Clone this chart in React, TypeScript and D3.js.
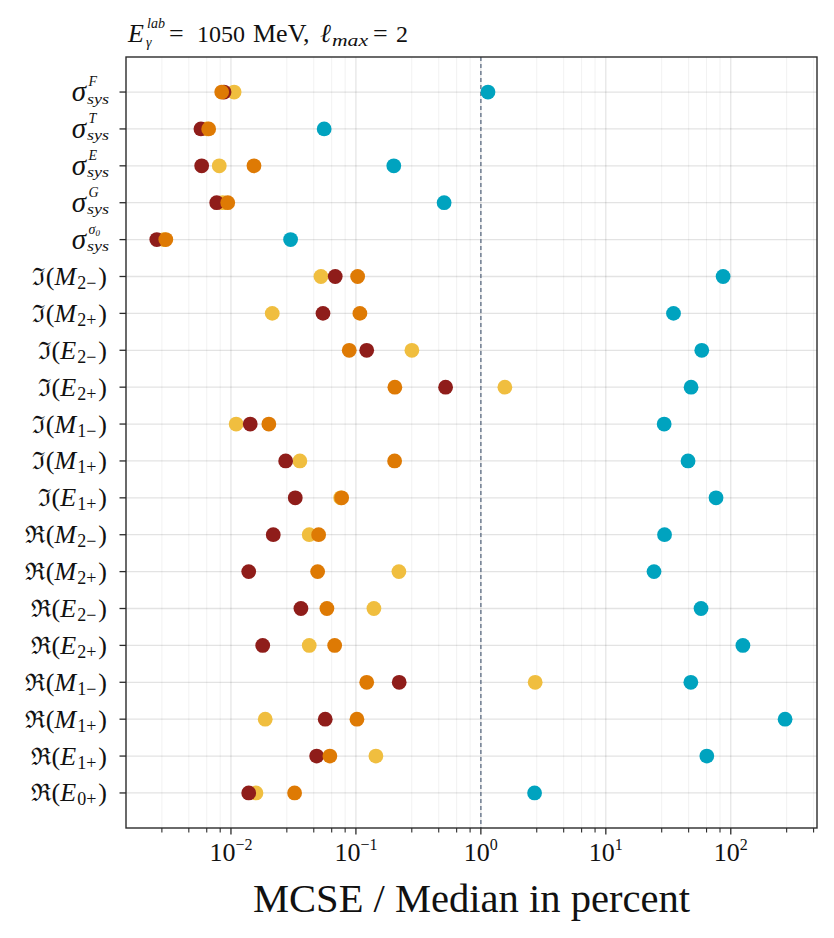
import React from "react";
import * as d3 from "d3";

// rows, top to bottom
const rowKeys = [
  "sigF", "sigT", "sigE", "sigG", "sigS0",
  "ImM2m", "ImM2p", "ImE2m", "ImE2p", "ImM1m", "ImM1p", "ImE1p",
  "ReM2m", "ReM2p", "ReE2m", "ReE2p", "ReM1m", "ReM1p", "ReE1p", "ReE0p",
];

type Label =
  | { kind: "sigma"; sup: string; supSub?: string }
  | { kind: "Im" | "Re"; sym: string; sub: string };

const rowLabels: Label[] = [
  { kind: "sigma", sup: "F" },
  { kind: "sigma", sup: "T" },
  { kind: "sigma", sup: "E" },
  { kind: "sigma", sup: "G" },
  { kind: "sigma", sup: "σ", supSub: "0" },
  { kind: "Im", sym: "M", sub: "2−" },
  { kind: "Im", sym: "M", sub: "2+" },
  { kind: "Im", sym: "E", sub: "2−" },
  { kind: "Im", sym: "E", sub: "2+" },
  { kind: "Im", sym: "M", sub: "1−" },
  { kind: "Im", sym: "M", sub: "1+" },
  { kind: "Im", sym: "E", sub: "1+" },
  { kind: "Re", sym: "M", sub: "2−" },
  { kind: "Re", sym: "M", sub: "2+" },
  { kind: "Re", sym: "E", sub: "2−" },
  { kind: "Re", sym: "E", sub: "2+" },
  { kind: "Re", sym: "M", sub: "1−" },
  { kind: "Re", sym: "M", sub: "1+" },
  { kind: "Re", sym: "E", sub: "1+" },
  { kind: "Re", sym: "E", sub: "0+" },
];

// MCSE / median in percent, one array per series
const blueVals = [1.14, 0.0557, 0.201, 0.508, 0.03, 86.8, 34.8, 58.6, 48.1, 29.3, 45.5, 76.2, 29.5, 24.3, 57.8, 125, 47.9, 272, 64.3, 2.69];
const yellowVals = [0.0106, 0.0064, 0.00806, 0.0086, 0.0029, 0.0525, 0.0214, 0.2805, 1.556, 0.011, 0.0356, 0.0755, 0.0423, 0.2208, 0.1393, 0.0423, 2.72, 0.0188, 0.1445, 0.01585];
const redVals = [0.0088, 0.00575, 0.00583, 0.00769, 0.00255, 0.0683, 0.0545, 0.122, 0.522, 0.01426, 0.0274, 0.0327, 0.0218, 0.01387, 0.0363, 0.01795, 0.222, 0.0568, 0.0485, 0.01387];
const orangeVals = [0.00843, 0.00663, 0.01528, 0.00942, 0.00301, 0.1032, 0.1076, 0.0884, 0.205, 0.0201, 0.204, 0.0769, 0.0503, 0.0494, 0.0586, 0.0676, 0.122, 0.1019, 0.0619, 0.0323];

const series = [
  { name: "blue", color: "#00a3bf", values: blueVals },
  { name: "yellow", color: "#f0be3f", values: yellowVals },
  { name: "red", color: "#8f1d1a", values: redVals },
  { name: "orange", color: "#de7a04", values: orangeVals },
];

const majorExps = [-2, -1, 0, 1, 2];
const minorMults = [2.8, 4.6, 6.4, 8.2];
const minorDecades = [-3, -2, -1, 0, 1, 2];

const W = 834;
const H = 938;
const left = 126;
const right = 817;
const top = 57;
const bottom = 828;

const font = "'Liberation Serif', 'DejaVu Serif', serif";

function RowLabel({ label, y }: { label: Label; y: number }) {
  if (label.kind === "sigma") {
    return (
      <g fontFamily={font} fontStyle="italic" fill="#111">
        <text x={86} y={y + 9} fontSize={29} textAnchor="end">σ</text>
        <text x={88.5} y={y - 6} fontSize={14}>
          {label.sup}
          {label.supSub && (
            <tspan fontSize={9} dy={2}>{label.supSub}</tspan>
          )}
        </text>
        <text x={87} y={y + 11.5} fontSize={15} textLength={22} lengthAdjust="spacingAndGlyphs">sys</text>
      </g>
    );
  }
  return (
    <text x={107} y={y + 8.5} fontFamily={font} fontSize={26} textAnchor="end" fill="#111">
      <tspan fontFamily="'DejaVu Serif', serif" fontSize={24}>{label.kind === "Im" ? "ℑ" : "ℜ"}</tspan>
      <tspan dx={1}>(</tspan>
      <tspan fontStyle="italic">{label.sym}</tspan>
      <tspan fontSize={18} dy={4} dx={1}>{label.sub}</tspan>
      <tspan dy={-4} dx={2}>)</tspan>
    </text>
  );
}

export default function App() {
  const x = d3
    .scaleLog()
    .domain([Math.pow(10, -2.84), Math.pow(10, 2.69)])
    .range([left, right]);
  const y = d3.scalePoint<string>().domain(rowKeys).range([top, bottom]).padding(0.95);

  const majors = majorExps.map((e) => Math.pow(10, e));
  const minors = minorDecades
    .flatMap((d) => minorMults.map((m) => m * Math.pow(10, d)))
    .filter((v) => x(v) > left && x(v) < right);

  return (
    <svg
      width={W}
      height={H}
      viewBox={`0 0 ${W} ${H}`}
      style={{ position: "absolute", left: 0, top: 0, background: "#fff" }}
    >
      {/* title */}
      <g fontFamily={font} fill="#111">
        <text x={128} y={42} fontSize={26} fontStyle="italic">E</text>
        <text x={147} y={28} fontSize={14} fontStyle="italic">lab</text>
        <text x={146} y={47} fontSize={14} fontStyle="italic">γ</text>
        <text x={169} y={42} fontSize={26}>=</text>
        <text x={197} y={42} fontSize={24}>1050</text>
        <text x={253} y={42} fontSize={26}>MeV,</text>
        <text x={320} y={42} fontSize={26} fontStyle="italic">ℓ</text>
        <text x={332} y={46} fontSize={16} fontStyle="italic" textLength={36} lengthAdjust="spacingAndGlyphs">max</text>
        <text x={373} y={42} fontSize={26}>=</text>
        <text x={396} y={42} fontSize={24}>2</text>
      </g>

      {/* minor vertical grid */}
      {minors.map((v, i) => (
        <line key={`mg${i}`} x1={x(v)} x2={x(v)} y1={top} y2={bottom} stroke="rgba(0,0,0,0.055)" strokeWidth={1} />
      ))}
      {/* major vertical grid */}
      {majors.map((v, i) => (
        <line key={`Mg${i}`} x1={x(v)} x2={x(v)} y1={top} y2={bottom} stroke="rgba(0,0,0,0.12)" strokeWidth={1.1} />
      ))}
      {/* horizontal grid */}
      {rowKeys.map((k) => (
        <line key={`hg${k}`} x1={left} x2={right} y1={y(k)} y2={y(k)} stroke="rgba(0,0,0,0.11)" strokeWidth={1.3} />
      ))}

      {/* reference line at 1 % */}
      <line x1={x(1)} x2={x(1)} y1={top} y2={bottom} stroke="#66758a" strokeWidth={1.4} strokeDasharray="4,3" />

      {/* points */}
      {series.map((s) => (
        <g key={s.name} fill={s.color}>
          {s.values.map((v, i) => (
            <circle key={i} cx={x(v)} cy={y(rowKeys[i])} r={7.4} />
          ))}
        </g>
      ))}

      {/* frame */}
      <rect x={left} y={top} width={right - left} height={bottom - top} fill="none" stroke="#2b2b2b" strokeWidth={1.4} />

      {/* y ticks + labels */}
      {rowKeys.map((k, i) => (
        <g key={`yt${k}`}>
          <line x1={left - 6.5} x2={left} y1={y(k)} y2={y(k)} stroke="#2b2b2b" strokeWidth={1.3} />
          <RowLabel label={rowLabels[i]} y={y(k)!} />
        </g>
      ))}

      {/* x ticks */}
      {minors.map((v, i) => (
        <line key={`mt${i}`} x1={x(v)} x2={x(v)} y1={bottom} y2={bottom + 4.5} stroke="#2b2b2b" strokeWidth={1.1} />
      ))}
      {majors.map((v, i) => (
        <g key={`Mt${i}`}>
          <line x1={x(v)} x2={x(v)} y1={bottom} y2={bottom + 6.5} stroke="#2b2b2b" strokeWidth={1.3} />
          <text x={x(v)} y={861} fontFamily={font} fontSize={26} textAnchor="middle" fill="#111">
            10
            <tspan fontSize={16} dy={-11}>{majorExps[i] < 0 ? `−${-majorExps[i]}` : `${majorExps[i]}`}</tspan>
          </text>
        </g>
      ))}

      {/* x axis title */}
      <text
        x={(left + right) / 2}
        y={912}
        fontFamily={font}
        fontSize={39}
        textAnchor="middle"
        fill="#111"
        textLength={437}
        lengthAdjust="spacingAndGlyphs"
      >
        MCSE / Median in percent
      </text>
    </svg>
  );
}
